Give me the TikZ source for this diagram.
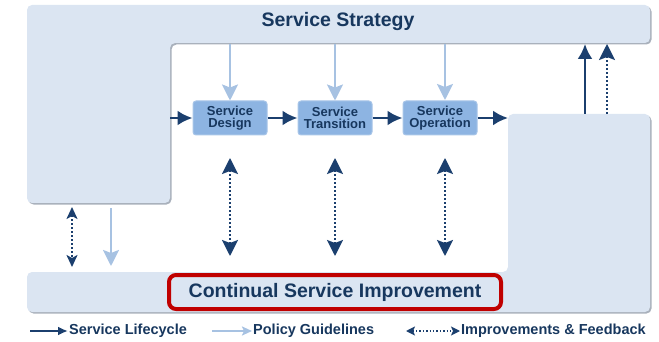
\documentclass[tikz,border=0pt]{standalone}
\usepackage{fontspec}
\setmainfont{Liberation Sans}
\usetikzlibrary{arrows.meta,positioning}

\definecolor{paleblue}{HTML}{DBE5F2}
\definecolor{edgegrey}{HTML}{A9B1BC}
\definecolor{navy}{HTML}{1B3F6E}
\definecolor{textnavy}{HTML}{17375E}
\definecolor{stageblue}{HTML}{8DB4E2}
\definecolor{stageedge}{HTML}{A8C5E8}
\definecolor{policyblue}{HTML}{A7C2E2}
\definecolor{framered}{HTML}{C00000}

\begin{document}
\begin{tikzpicture}[x=1pt,y=-1pt,
    stage/.style={rectangle,rounded corners=3pt,fill=stageblue,draw=stageedge,
        line width=1pt,minimum width=74pt,minimum height=34pt,inner sep=0pt,
        align=center,text=textnavy,font=\fontsize{13}{11.5}\selectfont\bfseries},
    title/.style={text=textnavy,font=\fontsize{19.5}{22}\selectfont\bfseries},
    legend/.style={anchor=west,inner sep=1pt,text=textnavy,
        font=\fontsize{14.5}{16}\selectfont\bfseries},
    flow/.style={draw=navy,line width=2.5pt,-{Latex[length=15pt,width=15pt]}},
    policy/.style={draw=policyblue,line width=2.5pt,
        -{Stealth[length=16pt,width=16pt,inset=3pt]}},
    feedback/.style={draw=navy,line width=2pt,dotted,
        {Stealth[length=16pt,width=16pt,inset=3pt]}-{Stealth[length=16pt,width=16pt,inset=3pt]}},
    upfeed/.style={draw=navy,line width=2pt,dotted,
        -{Stealth[length=16pt,width=16pt,inset=3pt]}}]
\useasboundingbox (0,0) rectangle (659,342);

% background bands
\fill[edgegrey,shift={(1.5,1.5)},rounded corners=5pt]
    (27,5) -- (650,5) -- (650,43) -- (170,43) -- (170,203) -- (27,203) -- cycle;
\fill[paleblue,rounded corners=5pt]
    (27,5) -- (650,5) -- (650,43) -- (170,43) -- (170,203) -- (27,203) -- cycle;
\fill[edgegrey,shift={(1.5,1.5)},rounded corners=5pt]
    (27,272) -- (508,272) -- (508,114) -- (650,114) -- (650,312) -- (27,312) -- cycle;
\fill[paleblue,rounded corners=5pt]
    (27,272) -- (508,272) -- (508,114) -- (650,114) -- (650,312) -- (27,312) -- cycle;

% nodes
\node[title] (strategy) at (338,22) {Service Strategy};
\node[stage] (design) at (230,118) {Service\\Design};
\node[stage] (transition) at (335,118) {Service\\Transition};
\node[stage] (operation) at (440,118) {Service\\Operation};
\node[title,draw=framered,line width=4pt,rounded corners=7pt,
      minimum width=332pt,minimum height=34pt] (csi) at (335,292)
      {Continual Service Improvement};

% helper coordinates
\coordinate (topedge) at (0,44);
\coordinate (leftedge) at (170,118);
\coordinate (rightedge) at (508,118);
\coordinate (fbtop) at (0,158);
\coordinate (fbbot) at (0,256);
\coordinate (solidup) at (585,114);
\coordinate (dotup) at (607,114);
\coordinate (leftfb) at (72,207);
\coordinate (leftpol) at (111,208);

% lifecycle
\draw[flow] (leftedge) -- (design);
\draw[flow] (design) -- (transition);
\draw[flow] (transition) -- (operation);
\draw[flow] (operation) -- (rightedge);
\draw[flow] (solidup) -- (solidup |- topedge);
\draw[upfeed] (dotup) -- (dotup |- topedge);

% policy
\draw[policy] (design |- topedge) -- (design);
\draw[policy] (transition |- topedge) -- (transition);
\draw[policy] (445,44) -- (445,100);
\draw[policy] (leftpol) -- (leftpol |- 0,266);

% improvements
\draw[feedback] (design |- fbtop) -- (design |- fbbot);
\draw[feedback] (transition |- fbtop) -- (transition |- fbbot);
\draw[feedback] (445,158) -- (445,256);
\draw[draw=navy,line width=2pt,dotted,
    {Stealth[length=12pt,width=11pt,inset=3pt]}-{Stealth[length=12pt,width=11pt,inset=3pt]}]
    (leftfb) -- (leftfb |- 0,267);

% legend
\node[legend] (lifecycle) at (68,331) {Service Lifecycle};
\node[legend] (guidelines) at (252,331) {Policy Guidelines};
\node[legend] (feedbacklbl) at (460,331) {Improvements \& Feedback};
\coordinate (lcstart) at (30,331);
\coordinate (pgstart) at (212,331);
\coordinate (fbstart) at (406,331);
\draw[draw=navy,line width=2pt,-{Latex[length=10pt,width=9pt]}] (lcstart) -- (lifecycle.west);
\draw[draw=policyblue,line width=2pt,-{Stealth[length=10pt,width=9pt,inset=2pt]}]
    (pgstart) -- (guidelines.west);
\draw[draw=navy,line width=1.4pt,dotted,
    {Stealth[length=9pt,width=9pt,inset=2pt]}-{Stealth[length=9pt,width=9pt,inset=2pt]}]
    (fbstart) -- (feedbacklbl.west);
\end{tikzpicture}
\end{document}
